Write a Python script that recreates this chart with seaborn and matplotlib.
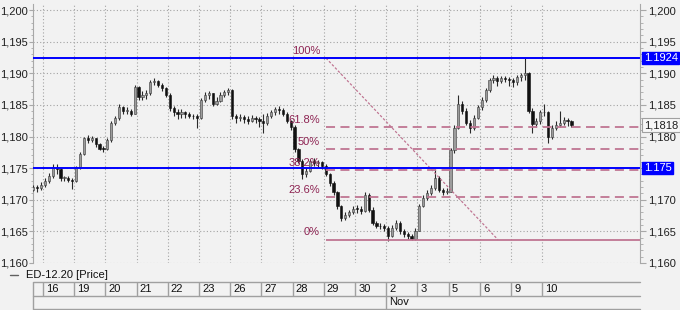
import numpy as np
import pandas as pd
import matplotlib
matplotlib.use("Agg")
import matplotlib.pyplot as plt
import seaborn as sns
from matplotlib.ticker import MultipleLocator, FuncFormatter
from matplotlib.lines import Line2D

# ---------------- data ----------------
day_labels = ["16", "19", "20", "21", "22", "23", "26", "27", "28", "29",
              "30", "2", "3", "5", "6", "9", "10"]
month_label = "Nov"
month_start_index = 11
bars_per_day = 8
lead_bars = 3          # visible bars of the previous session (15)
first_open = 1.1716

close = [
    1.1720, 1.1719, 1.1724,                                          # 15
    1.1730, 1.1738, 1.1752, 1.1748, 1.1734, 1.1734, 1.1732, 1.1730,  # 16
    1.1751, 1.1773, 1.1797, 1.1794, 1.1797, 1.1788, 1.1781, 1.1780,  # 19
    1.1794, 1.1822, 1.1829, 1.1846, 1.1840, 1.1841, 1.1836, 1.1878,  # 20
    1.1862, 1.1865, 1.1868, 1.1886, 1.1888, 1.1882, 1.1876, 1.1866,  # 21
    1.1845, 1.1838, 1.1836, 1.1838, 1.1835, 1.1833, 1.1832, 1.1830,  # 22
    1.1858, 1.1866, 1.1868, 1.1852, 1.1856, 1.1866, 1.1870, 1.1873,  # 23
    1.1832, 1.1829, 1.1831, 1.1827, 1.1825, 1.1829, 1.1828, 1.1824,  # 26
    1.1822, 1.1833, 1.1838, 1.1844, 1.1842, 1.1836, 1.1825, 1.1815,  # 27
    1.1780, 1.1762, 1.1741, 1.1746, 1.1762, 1.1758, 1.1759, 1.1754,  # 28
    1.1741, 1.1727, 1.1712, 1.1690, 1.1671, 1.1676, 1.1680, 1.1686,  # 29
    1.1685, 1.1683, 1.1708, 1.1684, 1.1664, 1.1659, 1.1658, 1.1656,  # 30
    1.1643, 1.1656, 1.1664, 1.1650, 1.1646, 1.1643, 1.1638, 1.1651,  # 2
    1.1690, 1.1703, 1.1711, 1.1719, 1.1735, 1.1716, 1.1712, 1.1713,  # 3
    1.1778, 1.1814, 1.1852, 1.1841, 1.1822, 1.1813, 1.1830, 1.1846,  # 5
    1.1858, 1.1873, 1.1889, 1.1892, 1.1888, 1.1892, 1.1891, 1.1889,  # 6
    1.1886, 1.1894, 1.1897, 1.1900, 1.1841, 1.1820, 1.1825, 1.1838,  # 9
    1.1838, 1.1800, 1.1814, 1.1818, 1.1822, 1.1826, 1.1824, 1.1818,  # 10
]
high = [
    1.1724, 1.1723, 1.1728,
    1.1734, 1.1742, 1.1757, 1.1756, 1.1750, 1.1738, 1.1737, 1.1735,
    1.1754, 1.1776, 1.1800, 1.1802, 1.1801, 1.1798, 1.1790, 1.1785,
    1.1797, 1.1825, 1.1833, 1.1852, 1.1848, 1.1846, 1.1843, 1.1882,
    1.1880, 1.1872, 1.1874, 1.1890, 1.1892, 1.1890, 1.1884, 1.1878,
    1.1868, 1.1848, 1.1843, 1.1843, 1.1840, 1.1838, 1.1836, 1.1835,
    1.1861, 1.1870, 1.1872, 1.1869, 1.1862, 1.1870, 1.1874, 1.1876,
    1.1875, 1.1836, 1.1836, 1.1834, 1.1832, 1.1834, 1.1833, 1.1831,
    1.1836, 1.1837, 1.1842, 1.1847, 1.1848, 1.1845, 1.1838, 1.1826,
    1.1818, 1.1782, 1.1764, 1.1750, 1.1765, 1.1766, 1.1763, 1.1762,
    1.1756, 1.1743, 1.1730, 1.1714, 1.1692, 1.1680, 1.1684, 1.1690,
    1.1692, 1.1690, 1.1712, 1.1710, 1.1688, 1.1667, 1.1664, 1.1662,
    1.1658, 1.1660, 1.1668, 1.1666, 1.1653, 1.1649, 1.1646, 1.1655,
    1.1694, 1.1708, 1.1716, 1.1724, 1.1749, 1.1738, 1.1718, 1.1718,
    1.1782, 1.1818, 1.1865, 1.1856, 1.1845, 1.1826, 1.1834, 1.1850,
    1.1862, 1.1877, 1.1893, 1.1897, 1.1896, 1.1896, 1.1895, 1.1894,
    1.1893, 1.1898, 1.1901, 1.1924, 1.1902, 1.1845, 1.1830, 1.1842,
    1.1852, 1.1840, 1.1818, 1.1824, 1.1841, 1.1831, 1.1829, 1.1826,
]
low = [
    1.1714, 1.1713, 1.1716,
    1.1720, 1.1727, 1.1735, 1.1740, 1.1730, 1.1729, 1.1728, 1.1717,
    1.1728, 1.1749, 1.1770, 1.1790, 1.1791, 1.1784, 1.1778, 1.1776,
    1.1778, 1.1792, 1.1818, 1.1826, 1.1835, 1.1836, 1.1832, 1.1835,
    1.1857, 1.1858, 1.1860, 1.1866, 1.1881, 1.1878, 1.1872, 1.1862,
    1.1840, 1.1832, 1.1828, 1.1830, 1.1829, 1.1829, 1.1828, 1.1813,
    1.1828, 1.1855, 1.1860, 1.1848, 1.1850, 1.1854, 1.1862, 1.1866,
    1.1828, 1.1822, 1.1824, 1.1822, 1.1820, 1.1823, 1.1822, 1.1815,
    1.1806, 1.1818, 1.1829, 1.1834, 1.1836, 1.1832, 1.1821, 1.1810,
    1.1776, 1.1758, 1.1733, 1.1736, 1.1744, 1.1753, 1.1752, 1.1749,
    1.1737, 1.1722, 1.1707, 1.1685, 1.1667, 1.1668, 1.1672, 1.1677,
    1.1679, 1.1678, 1.1680, 1.1680, 1.1660, 1.1655, 1.1653, 1.1651,
    1.1635, 1.1641, 1.1652, 1.1646, 1.1641, 1.1638, 1.1636, 1.1636,
    1.1650, 1.1688, 1.1700, 1.1708, 1.1716, 1.1712, 1.1708, 1.1709,
    1.1712, 1.1774, 1.1812, 1.1836, 1.1818, 1.1805, 1.1810, 1.1828,
    1.1842, 1.1855, 1.1870, 1.1884, 1.1880, 1.1885, 1.1886, 1.1880,
    1.1878, 1.1882, 1.1888, 1.1890, 1.1837, 1.1806, 1.1815, 1.1820,
    1.1832, 1.1789, 1.1796, 1.1810, 1.1815, 1.1818, 1.1817, 1.1815,
]

resistance_levels = [1.1924, 1.175]
resistance_tags = ["1.1924", "1.175"]
fib_high = 1.1924
fib_low = 1.1637
fib_ratios = [1.0, 0.618, 0.5, 0.382, 0.236, 0.0]
fib_labels = ["100%", "61.8%", "50%", "38.2%", "23.6%", "0%"]
fib_start_day = 9.07
fib_end_day = 14.58
last_price = 1.1818
last_price_tag = "1,1818"
legend_label = "ED-12.20 [Price]"

# ---------------- style ----------------
sns.set_style("ticks")
plt.rcParams["font.family"] = ["Liberation Sans", "DejaVu Sans"]
BG = "#f2f2f2"
GRID = "#a3a3a3"
FIB_LINE = "#c07592"
FIB_TEXT = "#8e2453"
BLUE = "#0000ff"
SPINE = "#a8a8a8"

W, H = 680, 310
fig = plt.figure(figsize=(W / 100, H / 100), dpi=100, facecolor=BG)

ax_l, ax_r, ax_t, ax_b = 33, 640, 4, 263
ax = fig.add_axes([ax_l / W, 1 - ax_b / H, (ax_r - ax_l) / W, (ax_b - ax_t) / H])
ax.set_facecolor(BG)

n_days = len(day_labels)
xmin = -10 / 31.2
xmax = (ax_r - 43) / 31.2
ylim = (1.160, 1.20095)
ax.set_xlim(xmin, xmax)
ax.set_ylim(*ylim)

# grid
for k in range(n_days):
    ax.axvline(k, color=GRID, lw=0.8, ls=(0, (1, 2)), zorder=1)
for yv in np.arange(1.160, 1.2001, 0.005):
    ax.axhline(yv, color=GRID, lw=0.8, ls=(0, (1, 2)), zorder=1)

# candles
df = pd.DataFrame({"close": close, "high": high, "low": low})
df["open"] = [first_open] + close[:-1]
df["x"] = (np.arange(len(df)) - lead_bars + 0.5) / bars_per_day
up = df["close"] >= df["open"]
ax.vlines(df["x"], df["low"], df["high"], color="#2a2a2a", lw=0.8, zorder=4)
body_bottom = np.minimum(df["open"], df["close"])
body_h = np.maximum(np.abs(df["close"] - df["open"]), 0.00012)
bw = 0.55 / bars_per_day
ax.bar(df["x"][up], body_h[up], bottom=body_bottom[up], width=bw,
       color="#9c9c9c", edgecolor="#3a3a3a", lw=0.4, zorder=5)
ax.bar(df["x"][~up], body_h[~up], bottom=body_bottom[~up], width=bw,
       color="#111111", edgecolor="#111111", lw=0.4, zorder=5)

# blue horizontal lines
for lv in resistance_levels:
    ax.axhline(lv, color=BLUE, lw=1.4, zorder=6)

# fibonacci
rng = fib_high - fib_low
for r, lab in zip(fib_ratios, fib_labels):
    lv = fib_low + r * rng
    if r in (0.0, 1.0):
        ax.hlines(lv, fib_start_day, xmax, color=FIB_LINE, lw=1.3, zorder=5.5)
    else:
        ax.hlines(lv, fib_start_day, xmax, color=FIB_LINE, lw=1.3,
                  linestyles=(0, (5, 3)), zorder=5.5)
    ax.text(fib_start_day - 0.19, lv + 0.00035, lab, ha="right", va="bottom",
            color=FIB_TEXT, fontsize=8, zorder=7)
trend = pd.DataFrame({"x": [fib_start_day, fib_end_day], "y": [fib_high, fib_low]})
sns.lineplot(data=trend, x="x", y="y", ax=ax, color=FIB_LINE, lw=0.9,
             dashes=False, zorder=5.5, legend=False)
ax.lines[-1].set_dashes((2, 1.5))
ax.set_xlabel("")
ax.set_ylabel("")

# left axis
fmt = FuncFormatter(lambda v, _: f"{v:.3f}".replace(".", ","))
ax.yaxis.set_major_locator(MultipleLocator(0.005))
ax.yaxis.set_minor_locator(MultipleLocator(0.001))
ax.yaxis.set_major_formatter(fmt)
ax.tick_params(axis="y", which="both", left=True, right=False, labelleft=True,
               labelright=False, direction="out", color=SPINE,
               labelsize=8, labelcolor="#202020", pad=0.5)
ax.tick_params(axis="y", which="major", length=3)
ax.tick_params(axis="y", which="minor", length=1.5)
ax.tick_params(axis="x", which="both", bottom=False, labelbottom=False)
for s in ["top", "bottom", "right"]:
    ax.spines[s].set_visible(False)
ax.spines["left"].set_color(SPINE)
ax.spines["left"].set_linewidth(0.8)

# right axis (label hidden where the 1.175 tag sits)
axr = ax.twinx()
axr.set_ylim(*ylim)
axr.yaxis.set_major_locator(MultipleLocator(0.005))
axr.yaxis.set_minor_locator(MultipleLocator(0.001))
axr.yaxis.set_major_formatter(FuncFormatter(
    lambda v, _: "" if abs(v - resistance_levels[1]) < 1e-6 else f"{v:.3f}".replace(".", ",")))
axr.tick_params(axis="y", which="both", direction="out", color=SPINE,
                labelsize=8, labelcolor="#202020", pad=2)
axr.tick_params(axis="y", which="major", length=4)
axr.tick_params(axis="y", which="minor", length=2)
for s in ["top", "bottom", "left"]:
    axr.spines[s].set_visible(False)
axr.spines["right"].set_color(SPINE)
axr.spines["right"].set_linewidth(0.8)

# right-side price tags
ytr = axr.get_yaxis_transform()
for lv, tag in zip(resistance_levels, resistance_tags):
    axr.text(1.006, lv, tag, transform=ytr, ha="left", va="center", fontsize=8,
             color="white", clip_on=False, zorder=20,
             bbox=dict(boxstyle="square,pad=0.12", fc=BLUE, ec=BLUE))
axr.text(1.006, last_price, last_price_tag, transform=ytr, ha="left", va="center",
         fontsize=8, color="#202020", clip_on=False, zorder=20,
         bbox=dict(boxstyle="square,pad=0.15", fc="#f7f7f7", ec="#a0a0a0", lw=0.8))

# legend line
ly = 1 - 275 / H
fig.add_artist(Line2D([10 / W, 18 / W], [ly, ly], color="#606060", lw=1,
                      transform=fig.transFigure))
fig.text(26 / W, ly, legend_label, fontsize=8, va="center", ha="left", color="#101010")

# date band
band_top, band_bot = 282, 309
axd = fig.add_axes([ax_l / W, 1 - band_bot / H, (ax_r - ax_l) / W,
                    (band_bot - band_top) / H])
axd.set_facecolor(BG)
axd.set_xlim(xmin, xmax)
axd.set_ylim(0, 2)
axd.axis("off")
BAND = "#a0a0a0"
for yv in (0, 1, 2):
    axd.axhline(yv, color=BAND, lw=1.0, clip_on=False)
axd.vlines(xmin, 0, 2, color=BAND, lw=1.0, clip_on=False)
for k, lab in enumerate(day_labels):
    axd.vlines(k, 1, 2, color=BAND, lw=1.0)
    axd.text(k + 0.1, 1.5, lab, fontsize=8, ha="left", va="center", color="#101010")
axd.vlines(month_start_index, 0, 1, color=BAND, lw=1.0)
axd.text(month_start_index + 0.1, 0.5, month_label, fontsize=8, ha="left",
         va="center", color="#101010")

fig.savefig("out.png", dpi=100, facecolor=BG)
